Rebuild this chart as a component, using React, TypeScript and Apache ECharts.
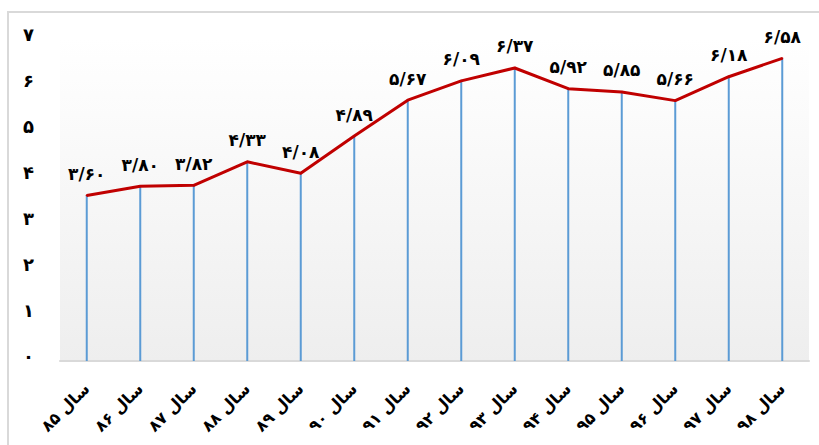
import React, { useEffect, useRef } from "react";
import * as echarts from "echarts";

const categories = ["سال ۸۵", "سال ۸۶", "سال ۸۷", "سال ۸۸", "سال ۸۹", "سال ۹۰", "سال ۹۱", "سال ۹۲", "سال ۹۳", "سال ۹۴", "سال ۹۵", "سال ۹۶", "سال ۹۷", "سال ۹۸"];
const values = [3.6, 3.8, 3.82, 4.33, 4.08, 4.89, 5.67, 6.09, 6.37, 5.92, 5.85, 5.66, 6.18, 6.58];

const faDigits = "۰۱۲۳۴۵۶۷۸۹";
const toFa = (s: string) => s.replace(/\d/g, (d) => faDigits[Number(d)]);
const FONT = "'DejaVu Sans', 'Noto Sans', sans-serif";

export default function App() {
  const ref = useRef<HTMLDivElement>(null);
  useEffect(() => {
    document.body.style.margin = "0";
    const chart = echarts.init(ref.current!, null, { renderer: "svg" });
    chart.setOption({
      animation: false,
      backgroundColor: "#ffffff",
      graphic: [
        {
          type: "polyline",
          shape: { points: [[8, 445], [8, 12], [819, 12]] },
          style: { stroke: "#d9d9d9", lineWidth: 2, fill: "none" },
          silent: true,
        },
      ],
      grid: {
        left: 60,
        right: 10,
        top: 39,
        bottom: 84,
        show: true,
        borderWidth: 0,
        backgroundColor: new echarts.graphic.LinearGradient(0, 0, 0, 1, [
          { offset: 0, color: "#ffffff" },
          { offset: 1, color: "#eeeeee" },
        ]),
      },
      xAxis: {
        type: "category",
        data: categories,
        boundaryGap: true,
        axisLine: { lineStyle: { color: "#d9d9d9", width: 2 } },
        axisTick: { show: false },
        axisLabel: {
          rotate: 45,
          interval: 0,
          margin: 25,
          color: "#000",
          fontSize: 16,
          fontWeight: "bold",
          fontFamily: FONT,
        },
      },
      yAxis: {
        type: "value",
        min: 0,
        max: 7,
        interval: 1,
        splitLine: { show: false },
        axisLine: { show: false },
        axisTick: { show: false },
        axisLabel: {
          margin: 26,
          color: "#000",
          fontSize: 18,
          fontWeight: "bold",
          fontFamily: FONT,
          verticalAlign: "bottom",
          lineHeight: 10,
          formatter: (v: number) => toFa(String(v)),
        },
      },
      series: [
        {
          type: "bar",
          data: values,
          barWidth: 2,
          itemStyle: { color: "#5b9bd5" },
          z: 1,
        },
        {
          type: "line",
          data: values,
          symbol: "circle",
          symbolSize: 2,
          itemStyle: { color: "#c00000" },
          lineStyle: { color: "#c00000", width: 3 },
          z: 3,
          label: {
            show: true,
            position: "top",
            distance: 12,
            color: "#000",
            fontSize: 17,
            fontWeight: "bold",
            fontFamily: FONT,
            formatter: (p: any) => toFa(Number(p.value).toFixed(2).replace(".", "/")),
          },
        },
      ],
    });
    return () => chart.dispose();
  }, []);
  return <div ref={ref} style={{ width: 819, height: 445 }} />;
}
